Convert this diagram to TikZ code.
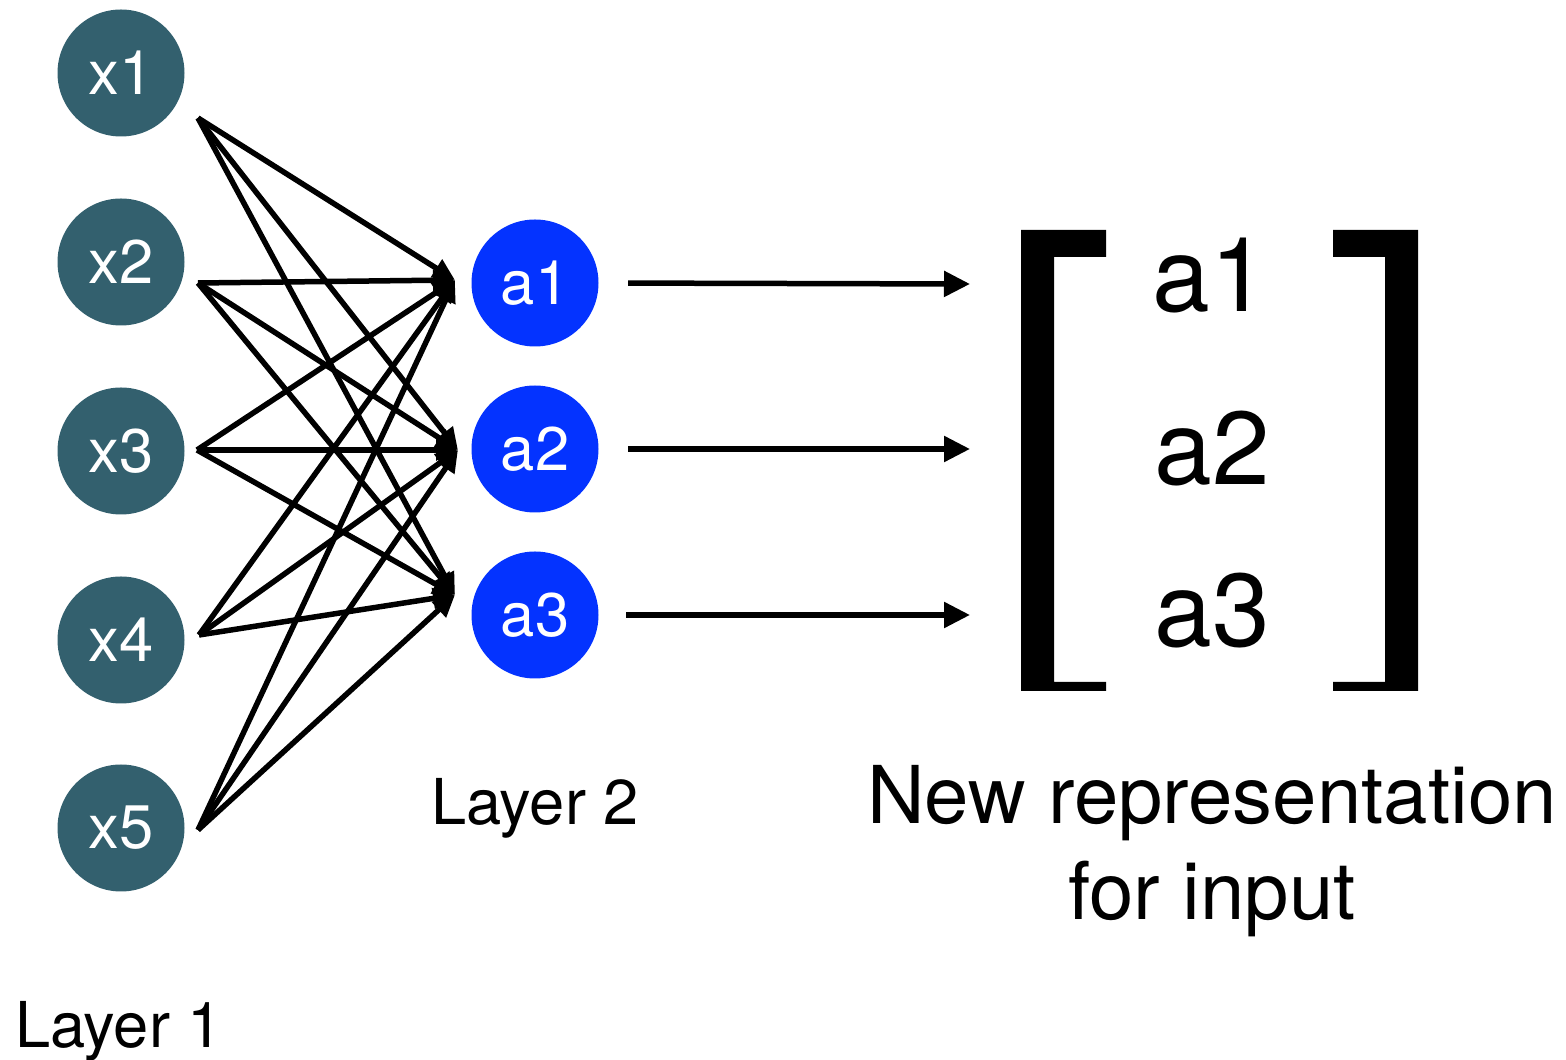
\documentclass[tikz,border=0pt]{standalone}
\usepackage{fontspec}
\setmainfont{TeX Gyre Heros}
\usepackage{xcolor}
\usetikzlibrary{arrows.meta,positioning}
\definecolor{inteal}{RGB}{51,96,110}
\definecolor{hidblue}{RGB}{4,51,255}

\begin{document}
\begin{tikzpicture}[
    unit/.style={circle, minimum size=1.27cm, inner sep=0pt, text=white, font=\fontsize{17.5}{20}\selectfont},
    inunit/.style={unit, fill=inteal},
    hidunit/.style={unit, fill=hidblue},
    wire/.style={line width=0.055cm, -{Triangle[length=0.22cm, width=0.2cm]}},
    bigarrow/.style={line width=0.055cm, -{Triangle[length=0.26cm, width=0.25cm]}},
    lbl/.style={font=\fontsize{18}{21}\selectfont, inner sep=0pt, anchor=base},
    entry/.style={font=\fontsize{29.5}{34}\selectfont, inner sep=0pt}
]
    \useasboundingbox (0,0) rectangle (15.66,-10.6);

    % layer 1
    \node[inunit] (x1) at (1.21,-0.73) {x1};
    \node[inunit] (x2) at (1.21,-2.62) {x2};
    \node[inunit] (x3) at (1.21,-4.51) {x3};
    \node[inunit] (x4) at (1.21,-6.40) {x4};
    \node[inunit] (x5) at (1.21,-8.28) {x5};
    \coordinate (x1o) at (1.98,-1.18);
    \coordinate (x2o) at (1.98,-2.83);
    \coordinate (x3o) at (1.97,-4.50);
    \coordinate (x4o) at (1.99,-6.35);
    \coordinate (x5o) at (1.98,-8.30);

    % layer 2
    \node[hidunit] (a1) at (5.35,-2.83) {a1};
    \node[hidunit] (a2) at (5.35,-4.49) {a2};
    \node[hidunit] (a3) at (5.35,-6.15) {a3};
    \coordinate (a1i) at (4.55,-2.80);
    \coordinate (a2i) at (4.58,-4.50);
    \coordinate (a3i) at (4.55,-5.95);

    \draw[wire] (x1o) -- (a1i);
    \draw[wire] (x1o) -- (a2i);
    \draw[wire] (x1o) -- (a3i);
    \draw[wire] (x2o) -- (a1i);
    \draw[wire] (x2o) -- (a2i);
    \draw[wire] (x2o) -- (a3i);
    \draw[wire] (x3o) -- (a1i);
    \draw[wire] (x3o) -- (a2i);
    \draw[wire] (x3o) -- (a3i);
    \draw[wire] (x4o) -- (a1i);
    \draw[wire] (x4o) -- (a2i);
    \draw[wire] (x4o) -- (a3i);
    \draw[wire] (x5o) -- (a1i);
    \draw[wire] (x5o) -- (a2i);
    \draw[wire] (x5o) -- (a3i);

    % new representation
    \coordinate (b1) at (9.70,-2.84);
    \coordinate (b2) at (9.70,-4.49);
    \coordinate (b3) at (9.70,-6.15);
    \draw[bigarrow, shorten <=0.29cm] (a1.east) -- (b1);
    \draw[bigarrow, shorten <=0.29cm] (a2.east) -- (b2);
    \draw[bigarrow, shorten <=0.27cm] (a3.east) -- (b3);

    \fill (10.21,-2.30) -- (11.06,-2.30) -- (11.06,-2.57) -- (10.54,-2.57) -- (10.54,-6.82)
        -- (11.06,-6.82) -- (11.06,-6.91) -- (10.21,-6.91) -- cycle;
    \fill (14.18,-2.30) -- (13.33,-2.30) -- (13.33,-2.57) -- (13.85,-2.57) -- (13.85,-6.82)
        -- (13.33,-6.82) -- (13.33,-6.91) -- (14.18,-6.91) -- cycle;
    \node[entry] (m1) at (12.10,-2.76) {a1};
    \node[entry] (m2) at (12.12,-4.49) {a2};
    \node[entry] (m3) at (12.12,-6.11) {a3};

    % labels
    \node[lbl] (l2) at (5.35,-8.25) {Layer 2};
    \node[lbl] (l1) at (1.19,-10.48) {Layer 1};
    \node[font=\fontsize{22.7}{27.3}\selectfont, align=center, inner sep=0pt, anchor=north] (rep)
        at (12.12,-7.65) {New representation\\for input};
\end{tikzpicture}
\end{document}
